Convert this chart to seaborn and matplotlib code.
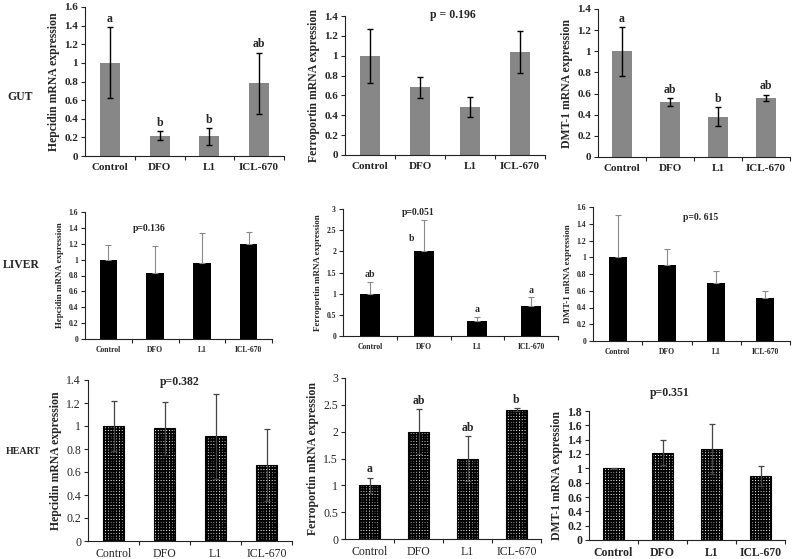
import matplotlib
matplotlib.use('Agg')
import matplotlib.pyplot as plt
import matplotlib.ticker as mticker
import seaborn as sns

groups = ['Control', 'DFO', 'L1', 'ICL-670']

# GUT
gut_hep = [1.0, 0.22, 0.21, 0.78]
gut_hep_err = [0.38, 0.05, 0.09, 0.33]
gut_hep_sig = ['a', 'b', 'b', 'ab']

gut_fpn = [1.0, 0.68, 0.48, 1.04]
gut_fpn_err = [0.27, 0.11, 0.10, 0.21]

gut_dmt = [1.0, 0.52, 0.38, 0.56]
gut_dmt_err = [0.23, 0.04, 0.09, 0.03]
gut_dmt_sig = ['a', 'ab', 'b', 'ab']

# LIVER
liver_hep = [1.0, 0.83, 0.96, 1.20]
liver_hep_err = [0.19, 0.34, 0.37, 0.15]

liver_fpn = [1.0, 2.0, 0.35, 0.72]
liver_fpn_err = [0.27, 0.75, 0.10, 0.19]
liver_fpn_sig = ['ab', 'b', 'a', 'a']

liver_dmt = [1.0, 0.91, 0.69, 0.51]
liver_dmt_err = [0.50, 0.19, 0.15, 0.09]

# HEART
heart_hep = [1.0, 0.98, 0.91, 0.66]
heart_hep_err = [0.22, 0.23, 0.37, 0.31]

heart_fpn = [1.0, 2.0, 1.5, 2.41]
heart_fpn_err = [0.14, 0.42, 0.41, 0.03]
heart_fpn_sig = ['a', 'ab', 'ab', 'b']

heart_dmt = [1.0, 1.22, 1.27, 0.89]
heart_dmt_err = [0.01, 0.18, 0.35, 0.14]

sns.set_style('ticks')
plt.rcParams['font.family'] = ['Liberation Serif', 'DejaVu Serif']
plt.rcParams['hatch.linewidth'] = 1.25

W, H = 798, 559
fig = plt.figure(figsize=(W / 100, H / 100), dpi=100)


def panel(px_left, px_right, px_y0, px_top, vals, errs, ylabel, ymax, ystep,
          row, letters=None, ptext=None, ppos=None, bold_ticks=True):
    rect = [px_left / W, 1 - px_y0 / H, (px_right - px_left) / W, (px_y0 - px_top) / H]
    ax = fig.add_axes(rect)
    if row == 'gut':
        sns.barplot(x=groups, y=vals, ax=ax, color='#878787', width=0.4,
                    errorbar=None, linewidth=0)
        ax.errorbar(range(4), vals, yerr=errs, fmt='none', ecolor='black',
                    elinewidth=1, capsize=2.5, capthick=1)
        lab_fs, tick_fs, txt_fs = 8.5, 8, 8.5
    elif row == 'liver':
        sns.barplot(x=groups, y=vals, ax=ax, color='black', width=0.37,
                    errorbar=None, linewidth=0)
        ax.errorbar(range(4), vals, yerr=[[0] * 4, errs], fmt='none',
                    ecolor='#8a8a8a', elinewidth=0.8, capsize=2, capthick=0.8)
        lab_fs, tick_fs, txt_fs = 6.5, 5.5, 7
    else:
        sns.barplot(x=groups, y=vals, ax=ax, color='white', width=0.42,
                    errorbar=None, edgecolor='black', linewidth=0.8,
                    hatch='++++++')
        ax.errorbar(range(4), vals, yerr=errs, fmt='none', ecolor='#444444',
                    elinewidth=0.9, capsize=2, capthick=0.9)
        lab_fs, tick_fs, txt_fs = 8.5, 8.5, 8.5

    ax.set_xlim(-0.5, 3.5)
    ax.set_ylim(0, ymax)
    ax.yaxis.set_major_locator(mticker.MultipleLocator(ystep))
    ax.yaxis.set_major_formatter(mticker.FormatStrFormatter('%g'))
    ax.set_xticks(range(4))
    ax.set_xticklabels(groups)
    ax.set_xticks([0.5, 1.5, 2.5, 3.5], minor=True)
    ax.tick_params(axis='x', which='major', length=0, pad=5, labelsize=tick_fs)
    ax.tick_params(axis='x', which='minor', length=3, width=0.8, direction='out')
    ax.tick_params(axis='y', length=3, width=0.8, direction='out', pad=2,
                   labelsize=tick_fs)
    weight = 'bold' if bold_ticks else 'normal'
    for t in ax.get_xticklabels() + ax.get_yticklabels():
        t.set_fontweight(weight)
    ax.set_xlabel('')
    ax.set_ylabel(ylabel, fontsize=lab_fs, fontweight='bold', labelpad=3)
    sns.despine(ax=ax)
    for s in ('left', 'bottom'):
        ax.spines[s].set_linewidth(0.8)
        ax.spines[s].set_color('#222222')

    if letters is not None:
        for i, lt in enumerate(letters):
            ax.text(i, vals[i] + errs[i] + ymax * 0.015, lt, ha='center',
                    va='bottom', fontsize=txt_fs, fontweight='bold', clip_on=False)
    if ptext is not None:
        ax.text(ppos[0], ppos[1], ptext, ha='center', va='center',
                fontsize=txt_fs, fontweight='bold', clip_on=False)
    return ax


# GUT row
panel(85, 284, 156, 7, gut_hep, gut_hep_err, 'Hepcidin mRNA expression',
      1.6, 0.2, 'gut', letters=gut_hep_sig)
panel(345, 545, 155, 16, gut_fpn, gut_fpn_err, 'Ferroportin mRNA expression',
      1.4, 0.2, 'gut', ptext='p = 0.196', ppos=(1.66, 1.41))
panel(598, 790, 157, 9, gut_dmt, gut_dmt_err, 'DMT-1 mRNA expression',
      1.4, 0.2, 'gut', letters=gut_dmt_sig)

# LIVER row
panel(85, 272, 339, 212, liver_hep, liver_hep_err, 'Hepcidin mRNA expression',
      1.6, 0.2, 'liver', ptext='p=0.136', ppos=(0.88, 1.39))
ax5 = panel(343, 558, 336, 209, liver_fpn, liver_fpn_err,
            'Ferroportin mRNA expression', 3, 0.5, 'liver',
            ptext='p=0.051', ppos=(0.9, 2.92))
# letters for liver ferroportin (DFO letter sits left of its error bar)
ax5.text(0, 1.34, liver_fpn_sig[0], ha='center', va='bottom', fontsize=7, fontweight='bold')
ax5.text(0.78, 2.31, liver_fpn_sig[1], ha='center', va='center', fontsize=7, fontweight='bold')
ax5.text(2, 0.52, liver_fpn_sig[2], ha='center', va='bottom', fontsize=7, fontweight='bold')
ax5.text(3, 0.96, liver_fpn_sig[3], ha='center', va='bottom', fontsize=7, fontweight='bold')
panel(593, 790, 341, 207, liver_dmt, liver_dmt_err, 'DMT-1 mRNA expression',
      1.6, 0.2, 'liver', ptext='p=0. 615', ppos=(1.68, 1.47))

# HEART row
panel(88, 292, 541, 380, heart_hep, heart_hep_err, 'Hepcidin mRNA expression',
      1.4, 0.2, 'heart', ptext='p=0.382', ppos=(1.3, 1.38), bold_ticks=False)
panel(345, 541, 539, 378, heart_fpn, heart_fpn_err, 'Ferroportin mRNA expression',
      3, 0.5, 'heart', letters=heart_fpn_sig, bold_ticks=False)
panel(589, 785, 540, 411, heart_dmt, heart_dmt_err, 'DMT-1 mRNA expression',
      1.8, 0.2, 'heart', ptext='p=0.351', ppos=(1.15, 2.05))

# row labels
for lbl, xpx, ypx, fs in [('GUT', 7, 97, 8.5), ('LIVER', 3, 265, 8.5),
                          ('HEART', 6, 451, 7.2)]:
    fig.text(xpx / W, 1 - ypx / H, lbl, ha='left', va='center', fontsize=fs,
             fontweight='bold')

fig.savefig('out.png', dpi=100)
